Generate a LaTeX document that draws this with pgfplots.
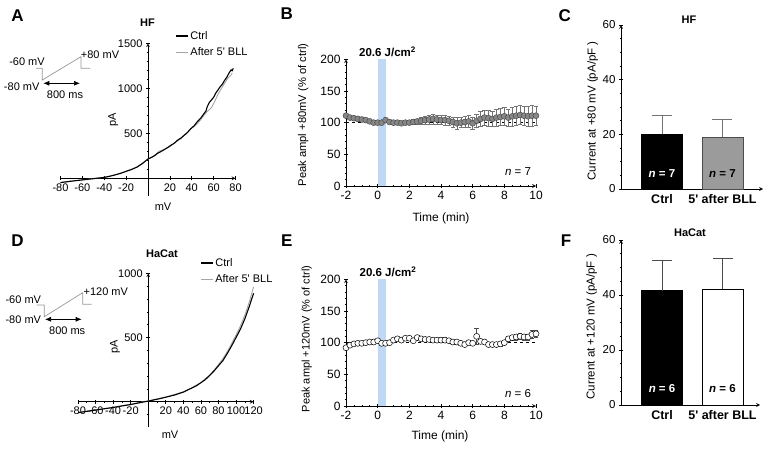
\documentclass[border=0pt]{standalone}
\usepackage{pgfplots}
\pgfplotsset{compat=1.18}
\usepackage{fontspec}
\setmainfont{Liberation Sans}
\usetikzlibrary{arrows.meta}
\definecolor{bandblue}{RGB}{190,216,245}
\definecolor{ptgray}{RGB}{135,135,135}
\definecolor{bargray}{RGB}{155,155,155}
\definecolor{tracegray}{RGB}{165,165,165}
\definecolor{protgray}{RGB}{150,150,150}
\newcommand{\fs}[1]{\fontsize{#1}{#1}\selectfont}
\begin{document}
\begin{tikzpicture}[x=1pt,y=1pt]
\path[use as bounding box] (0,0) rectangle (769,448);
\pgfplotsset{every axis/.append style={scale only axis, clip=false,
  /pgf/number format/assume math mode=true,
  /pgf/number format/set thousands separator={},
  axis line style={-, line width=0.7pt},
  tick style={black, line width=0.6pt},
  major tick length=4pt, minor tick length=2.2pt, tick align=outside}}

% ---------------- Panel A ----------------
\begin{axis}[at={(60.5pt,251.7pt)}, width=175pt, height=153pt,
  axis lines=middle, xmin=-80, xmax=80, ymin=-200, ymax=1500,
  xtick={-80,-60,-40,-20,20,40,60,80}, ytick={500,1000,1500},
  minor ytick={100,200,300,400,600,700,800,900,1100,1200,1300,1400},
  ticklabel style={font=\fs{11}},
  legend style={draw=none, fill=none, at={(0.655,1.093)}, anchor=north west, font=\fs{11}, row sep=3pt, inner sep=0pt},
  legend cell align=left, reverse legend,
  legend image code/.code={\draw[#1] (0pt,0pt) -- (12pt,0pt);}]
\addplot[tracegray, line width=0.9pt] table {
-80 -46
-70 -30
-60 -17
-50 -3
-40 11
-30 40
-20 78
-10 126
0 212
5 240
10 300
15 322
20 352
25 398
30 442
35 495
40 560
42 572
45 605
48 648
51 698
54 740
56 762
58 785
60 830
62 880
64 935
66 975
68 1015
70 1055
72 1095
74 1125
76 1150
77 1170
};
\addplot[black, line width=1.1pt] table {
-80 -48
-75 -40
-70 -32
-65 -25
-60 -18
-55 -11
-50 -4
-45 3
-40 10
-35 22
-30 38
-25 55
-20 77
-15 98
-10 125
-5 165
0 215
3 232
6 252
9 280
12 298
15 320
18 342
21 368
24 390
27 423
30 446
33 478
36 508
39 550
42 582
45 628
48 665
51 715
53 748
54 790
56 842
58 870
60 900
62 948
64 982
66 1018
68 1045
70 1088
72 1122
74 1168
76 1205
77 1195
78 1222
};
\legend{After 5\textquotesingle{} BLL, Ctrl}
\end{axis}

% ---------------- Panel D ----------------
\begin{axis}[at={(78pt,20.6pt)}, width=175.6pt, height=154.1pt,
  axis lines=middle, xmin=-80, xmax=120, ymin=-200, ymax=1000,
  xtick={-80,-60,-40,-20,20,40,60,80,100,120},
  minor xtick={-70,-50,-30,-10,10,30,50,70,90,110},
  ytick={500,1000},
  minor ytick={-100,100,200,300,400,600,700,800,900},
  ticklabel style={font=\fs{11}},
  legend style={draw=none, fill=none, at={(0.695,1.112)}, anchor=north west, font=\fs{11}, row sep=3pt, inner sep=0pt},
  legend cell align=left, reverse legend,
  legend image code/.code={\draw[#1] (0pt,0pt) -- (12pt,0pt);}]
\addplot[tracegray, line width=0.9pt] table {
-80 -83
-60 -63
-40 -43
-20 -20
0 7
20 37
40 77
50 110
60 150
70 208
75 245
80 290
85 335
90 390
95 452
100 520
105 590
110 675
115 775
120 895
};
\addplot[black, line width=1.1pt] table {
-80 -85
-70 -75
-60 -65
-50 -55
-40 -45
-30 -33
-20 -22
-10 -8
0 5
10 19
20 35
30 52
40 75
50 108
55 125
60 148
65 172
70 205
75 240
80 280
85 320
90 375
95 435
100 500
105 565
110 645
115 740
120 845
};
\legend{After 5\textquotesingle{} BLL, Ctrl}
\end{axis}

% ---------------- Panel B ----------------
\begin{axis}[at={(346pt,262pt)}, width=190pt, height=126.7pt,
  axis lines=left, xmin=-2, xmax=10, ymin=0, ymax=200,
  xtick={-2,0,2,4,6,8,10}, ytick={0,50,100,150,200},
  minor x tick num=3, minor y tick num=4,
  ticklabel style={font=\fs{12}}]
\addplot[draw=none, fill=bandblue] coordinates {(0,200) (0.5,200)} \closedcycle;
\addplot[black, dashed, line width=0.7pt] coordinates {(-2,100) (10,100)};
\addplot[only marks, mark=*, mark size=3pt,
  mark options={fill=ptgray, draw=black!75, line width=0.4pt},
  error bars/.cd, y dir=both, y explicit,
  error bar style={line width=0.45pt, black!55},
  error mark options={rotate=90, mark size=2.2pt, line width=0.45pt, black!55}]
  table[x=t, y=v, y error=e] {
t v e
-2.0 111 2
-1.75 108 3
-1.5 107 3
-1.25 106 3
-1.0 105 3
-0.75 104 3
-0.5 102 2
-0.25 100 2
0 100 2
0.25 100 2
0.5 104 2
0.75 101 2
1.0 100 2
1.25 100 2
1.5 99 2
1.75 100 2
2.0 100 3
2.25 101 4
2.5 102 4
2.75 103 5
3.0 104 6
3.25 105 7
3.5 106 8
3.75 105 7
4.0 104 7
4.25 104 8
4.5 103 7
4.75 101 8
5.0 99 9
5.25 100 8
5.5 101 9
5.75 102 10
6.0 99 10
6.25 103 11
6.5 106 12
6.75 108 12
7.0 107 13
7.25 106 12
7.5 108 13
7.75 109 13
8.0 110 14
8.25 108 13
8.5 110 15
8.75 111 15
9.0 112 15
9.25 111 15
9.5 110 16
9.75 111 16
10 111 15
};
\end{axis}

% ---------------- Panel E ----------------
\begin{axis}[at={(346pt,42pt)}, width=190pt, height=126.7pt,
  axis lines=left, xmin=-2, xmax=10, ymin=0, ymax=200,
  xtick={-2,0,2,4,6,8,10}, ytick={0,50,100,150,200},
  minor x tick num=3, minor y tick num=4,
  ticklabel style={font=\fs{12}}]
\addplot[draw=none, fill=bandblue] coordinates {(0,200) (0.5,200)} \closedcycle;
\addplot[black, dashed, line width=0.7pt] coordinates {(-2,100) (10,100)};
\addplot[only marks, mark=*, mark size=3pt,
  mark options={fill=white, draw=black, line width=0.5pt},
  error bars/.cd, y dir=both, y explicit,
  error bar style={line width=0.45pt, black!70},
  error mark options={rotate=90, mark size=2.2pt, line width=0.45pt, black!70}]
  table[x=t, y=v, y error=e] {
t v e
-2.0 92 3
-1.75 96 2
-1.5 98 2
-1.25 99 2
-1.0 99 2
-0.75 100 2
-0.5 101 2
-0.25 101 2
0 103 2
0.25 99 2
0.5 99 2
0.75 100 2
1.0 104 2
1.25 106 2
1.5 104 2
1.75 107 3
2.0 107 3
2.25 103 2
2.5 108 2
2.75 106 2
3.0 105 2
3.25 105 2
3.5 104 2
3.75 104 3
4.0 104 4
4.25 104 4
4.5 103 3
4.75 101 3
5.0 101 3
5.25 99 2
5.5 97 2
5.75 100 2
6.0 99 2
6.25 110 12
6.5 102 3
6.75 101 2
7.0 97 3
7.25 97 3
7.5 97 3
7.75 98 3
8.0 100 3
8.25 106 4
8.5 108 4
8.75 109 5
9.0 110 5
9.25 109 5
9.5 109 5
9.75 113 6
10 114 6
};
\end{axis}

% ---------------- Panel C ----------------
\begin{axis}[at={(621pt,259pt)}, width=142pt, height=164pt,
  axis lines=left, xmin=0.322, xmax=2.67, ymin=0, ymax=60,
  ytick={0,20,40,60}, minor y tick num=3,
  xtick={1,2}, xticklabels={\textbf{Ctrl},\textbf{5\textquotesingle{} after BLL}},
  xtick style={draw=none},
  yticklabel style={font=\fs{11.5}}, xticklabel style={font=\fs{12.5}}]
\addplot[ybar, bar width=41pt, bar shift=0pt, fill=black, draw=black,
  error bars/.cd, y dir=plus, y explicit,
  error bar style={black!55, line width=0.7pt},
  error mark options={rotate=90, mark size=10pt, black!55, line width=0.7pt}]
  coordinates {(1,20.1) +- (0,7.0)};
\addplot[ybar, bar width=41pt, bar shift=0pt, fill=bargray, draw=black!70,
  error bars/.cd, y dir=plus, y explicit,
  error bar style={black!55, line width=0.7pt},
  error mark options={rotate=90, mark size=10pt, black!55, line width=0.7pt}]
  coordinates {(2,19.0) +- (0,6.5)};
\node[white, font=\fs{11.5}\bfseries] at (axis cs:1,5.7) {\textit{n} = 7};
\node[black, font=\fs{11.5}\bfseries] at (axis cs:2,5.7) {\textit{n} = 7};
\end{axis}

% ---------------- Panel F ----------------
\begin{axis}[at={(621pt,43pt)}, width=139pt, height=165pt,
  axis lines=left, xmin=0.322, xmax=2.62, ymin=0, ymax=60,
  ytick={0,20,40,60}, minor y tick num=3,
  xtick={1,2}, xticklabels={\textbf{Ctrl},\textbf{5\textquotesingle{} after BLL}},
  xtick style={draw=none},
  yticklabel style={font=\fs{11.5}}, xticklabel style={font=\fs{12.5}}]
\addplot[ybar, bar width=41pt, bar shift=0pt, fill=black, draw=black,
  error bars/.cd, y dir=plus, y explicit,
  error bar style={black!70, line width=0.7pt},
  error mark options={rotate=90, mark size=10pt, black!70, line width=0.7pt}]
  coordinates {(1,41.6) +- (0,10.9)};
\addplot[ybar, bar width=41pt, bar shift=0pt, fill=white, draw=black,
  error bars/.cd, y dir=plus, y explicit,
  error bar style={black!70, line width=0.7pt},
  error mark options={rotate=90, mark size=10pt, black!70, line width=0.7pt}]
  coordinates {(2,42.1) +- (0,11.2)};
\node[white, font=\fs{11.5}\bfseries] at (axis cs:1,6.1) {\textit{n} = 6};
\node[black, font=\fs{11.5}\bfseries] at (axis cs:2,6.1) {\textit{n} = 6};
\end{axis}

% ---------------- Texts ----------------
\begin{scope}[every node/.style={inner sep=0pt}]
\node[font=\fs{17}\bfseries] at (17.5,432.7) {A};
\node[font=\fs{17}\bfseries] at (286.7,434) {B};
\node[font=\fs{17}\bfseries] at (564.7,432.7) {C};
\node[font=\fs{17}\bfseries] at (17.5,207.2) {D};
\node[font=\fs{17}\bfseries] at (286.7,207) {E};
\node[font=\fs{17}\bfseries] at (566,207.5) {F};

\node[font=\fs{11}\bfseries] at (147.5,425.7) {HF};
\node[font=\fs{11}\bfseries] at (162,194.7) {HaCat};
\node[font=\fs{11}\bfseries] at (689,428) {HF};
\node[font=\fs{11}\bfseries] at (690,215.3) {HaCat};

\node[font=\fs{11.5}\bfseries] at (387.5,396.3) {20.6 J/cm\textsuperscript{2}};
\node[font=\fs{11.5}\bfseries] at (388,176.3) {20.6 J/cm\textsuperscript{2}};
\node[font=\fs{11.5}] at (518,276) {\textit{n} = 7};
\node[font=\fs{11.5}] at (518,54) {\textit{n} = 6};
\node[font=\fs{12}] at (441,230) {Time (min)};
\node[font=\fs{12}] at (440,11.3) {Time (min)};
\node[font=\fs{11.2},rotate=90] at (303.3,333) {Peak ampl +80mV (\% of ctrl)};
\node[font=\fs{11},rotate=90] at (306.7,109) {Peak ampl +120mV (\% of ctrl)};
\node[font=\fs{11.5},rotate=90] at (592.7,337.2) {Current at +80 mV (pA/pF )};
\node[font=\fs{11.5},rotate=90] at (591.7,121.3) {Current at +120 mV (pA/pF )};

\node[font=\fs{11},rotate=90] at (113.3,328) {pA};
\node[font=\fs{11},rotate=90] at (115,101.3) {pA};
\node[font=\fs{11}] at (163,241.3) {mV};
\node[font=\fs{11}] at (170,13) {mV};

% voltage protocol insets
\draw[protgray, line width=0.7pt] (36,379.7) -- (42.3,379.7) -- (42.3,368) -- (81,391.3) -- (81,379.7) -- (90,379.7);
\node[font=\fs{11}] at (27,386.3) {-60 mV};
\node[font=\fs{11}] at (100,393) {+80 mV};
\node[font=\fs{11}] at (21.7,361.3) {-80 mV};
\draw[black, line width=0.7pt, {Latex[length=6pt,width=5pt]}-{Latex[length=6pt,width=5pt]}] (43.3,364.7) -- (80,364.7);
\node[font=\fs{11}] at (65,353) {800 ms};

\draw[protgray, line width=0.7pt] (36.7,143) -- (44.3,143) -- (44.3,131.3) -- (82.7,155.3) -- (82.7,143.7) -- (91.7,143.7);
\node[font=\fs{11}] at (23.3,148) {-60 mV};
\node[font=\fs{11}] at (105.8,156.3) {+120 mV};
\node[font=\fs{11}] at (23.3,128) {-80 mV};
\draw[black, line width=0.7pt, {Latex[length=6pt,width=5pt]}-{Latex[length=6pt,width=5pt]}] (45,128.7) -- (81.7,128.7);
\node[font=\fs{11}] at (67.2,117) {800 ms};
\end{scope}
\end{tikzpicture}
\end{document}
